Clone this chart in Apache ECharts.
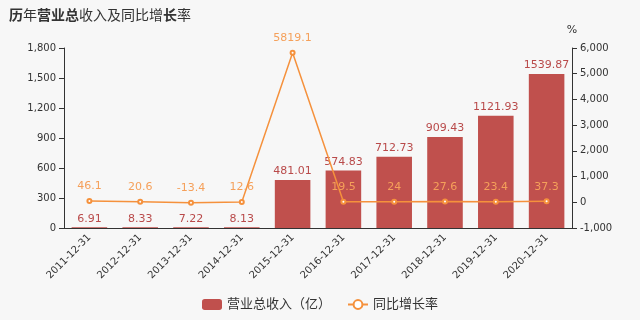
<!DOCTYPE html>
<html><head><meta charset="utf-8">
<script src="https://cdn.jsdelivr.net/npm/echarts@6/dist/echarts.min.js"></script>
<style>html,body{margin:0;padding:0;background:#f7f7f7}#c{width:640px;height:320px}</style>
</head><body><div id="c"></div>
<script>
const categories = ['2011-12-31','2012-12-31','2013-12-31','2014-12-31','2015-12-31','2016-12-31','2017-12-31','2018-12-31','2019-12-31','2020-12-31'];
const revenue = [6.91, 8.33, 7.22, 8.13, 481.01, 574.83, 712.73, 909.43, 1121.93, 1539.87];
const growth = [46.1, 20.6, -13.4, 12.6, 5819.1, 19.5, 24, 27.6, 23.4, 37.3];
const leftTicks = {min: 0, max: 1800, interval: 300};
const rightTicks = {min: -1000, max: 6000, interval: 1000};

const chart = echarts.init(document.getElementById('c'));
const fam = '"DejaVu Sans", "Noto Sans CJK SC", sans-serif';
chart.setOption({
  backgroundColor: '#f7f7f7',
  textStyle: {fontFamily: fam},
  title: {
    text: '{b|历}{n|年}{b|营业总}{n|收入及同比增}{b|长}{n|率}',
    left: 4, top: 4,
    textStyle: {
      rich: {
        b: {fontSize: 14, fontWeight: 'bold', color: '#333', fontFamily: fam},
        n: {fontSize: 14, fontWeight: 'normal', color: '#333', fontFamily: fam}
      }
    }
  },
  grid: {left: 64, right: 68, top: 48, bottom: 92},
  legend: {
    bottom: 4, left: 'center', itemGap: 16, itemWidth: 20, itemHeight: 11,
    textStyle: {fontSize: 13, color: '#333'},
    data: [
      {name: '营业总收入（亿）', icon: 'roundRect'},
      {name: '同比增长率'}
    ]
  },
  xAxis: {
    type: 'category', data: categories,
    axisLine: {lineStyle: {color: '#333'}},
    axisTick: {lineStyle: {color: '#333'}},
    axisLabel: {rotate: 45, fontSize: 10, color: '#333', interval: 0}
  },
  yAxis: [
    {type: 'value', min: leftTicks.min, max: leftTicks.max, interval: leftTicks.interval,
     axisLine: {show: true, lineStyle: {color: '#333'}}, axisTick: {show: true},
     axisLabel: {fontSize: 10, color: '#333'}, splitLine: {show: false}},
    {type: 'value', min: rightTicks.min, max: rightTicks.max, interval: rightTicks.interval,
     name: '%', nameTextStyle: {color: '#333', fontSize: 11}, nameGap: 12,
     axisLine: {show: true, lineStyle: {color: '#333'}}, axisTick: {show: true},
     axisLabel: {fontSize: 10, color: '#333'}, splitLine: {show: false}}
  ],
  series: [
    {name: '营业总收入（亿）', type: 'bar', data: revenue, barWidth: '70%',
     itemStyle: {color: '#c0504d'},
     label: {show: true, position: 'top', color: '#b94a4a', fontSize: 11, distance: 3}},
    {name: '同比增长率', type: 'line', yAxisIndex: 1, data: growth,
     symbol: 'emptyCircle', symbolSize: 4,
     lineStyle: {color: '#f5913c', width: 1.5}, itemStyle: {color: '#f5913c'},
     label: {show: true, position: 'top', color: '#f5a05a', fontSize: 11, distance: 6}}
  ]
});
</script></body></html>
